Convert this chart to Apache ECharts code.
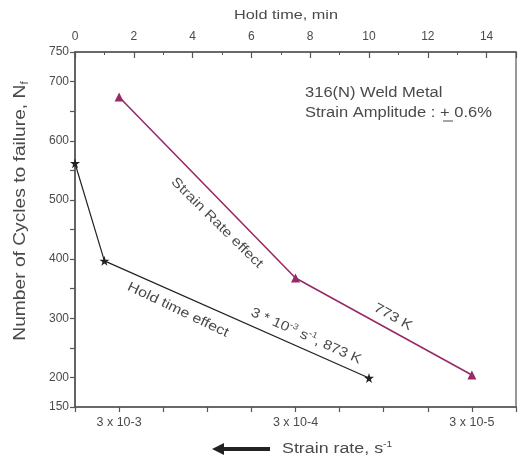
<!DOCTYPE html>
<html><head><meta charset="utf-8">
<script src="https://cdn.jsdelivr.net/npm/echarts@6/dist/echarts.min.js"></script>
<style>html,body{margin:0;padding:0;background:#fff}#c{width:520px;height:459px}</style>
</head><body><div id="c"></div>
<script>
// Hold-time series (873 K, 3e-3 s^-1)
const holdTime = [0, 1, 10];
const cyclesHold = [562, 397, 199];
// Strain-rate series (773 K)
const strainRates = [3e-3, 3e-4, 3e-5];
const cyclesRate = [674, 368, 204];
// Bottom tick labels
const rateTickLabels = {3: '3 x 10-3', 4: '3 x 10-4', 5: '3 x 10-5'};
const yLabelValues = [150, 200, 300, 400, 500, 600, 700, 750];

const txt = '#4a4a4a';
const axisCol = '#555';
const purple = '#992a68';
const font = 'Liberation Sans, Arial, sans-serif';
const star = 'path://M50,0 L61,35 L98,35 L68,57 L79,91 L50,70 L21,91 L32,57 L2,35 L39,35 Z';

const chart = echarts.init(document.getElementById('c'));
// deg: clockwise rotation in degrees; sx: horizontal stretch along baseline
function rtext(x, y, deg, text, size, sx) {
  return {
    type: 'text', x: x, y: y, rotation: -deg * Math.PI / 180, scaleX: sx || 1,
    style: { text: text, fill: txt, font: size + 'px ' + font, align: 'center', verticalAlign: 'middle' }
  };
}
chart.setOption({
  animation: false,
  grid: { left: 75, right: 4, top: 52, bottom: 52, show: true, borderColor: axisCol, borderWidth: 1.2, backgroundColor: 'transparent' },
  xAxis: [
    {
      type: 'value', position: 'bottom', min: 2.75, max: 5.25, interval: 0.25,
      axisLine: { show: true, lineStyle: { color: axisCol, width: 1.5 } },
      axisTick: { show: true, inside: false, length: 5, lineStyle: { color: axisCol, width: 1.2 } },
      splitLine: { show: false },
      axisLabel: {
        color: txt, fontSize: 12.5, fontFamily: font, margin: 9,
        formatter: function (v) { const k = Math.round(v * 100) / 100; return rateTickLabels[k] || ''; }
      }
    },
    {
      type: 'value', position: 'top', min: 0, max: 15, interval: 2,
      axisLine: { show: true, lineStyle: { color: axisCol, width: 1.5 } },
      axisTick: { show: true, inside: true, length: 6, lineStyle: { color: axisCol, width: 1.2 } },
      minorTick: { show: true, splitNumber: 2, length: 3, lineStyle: { color: axisCol, width: 1 } },
      splitLine: { show: false },
      axisLabel: { color: txt, fontSize: 12, fontFamily: font, margin: 9, showMaxLabel: false,
        formatter: function (v) { return v % 2 === 0 ? String(v) : ''; } }
    }
  ],
  yAxis: [{
    type: 'value', min: 150, max: 750, interval: 50,
    axisLine: { show: true, lineStyle: { color: axisCol, width: 1.5 } },
    axisTick: { show: true, inside: false, length: 5, lineStyle: { color: axisCol, width: 1.2 } },
    splitLine: { show: false },
    axisLabel: { color: txt, fontSize: 12, fontFamily: font, margin: 6,
      formatter: function (v) { return yLabelValues.indexOf(v) >= 0 ? String(v) : ''; } }
  }],
  series: [
    {
      type: 'line', xAxisIndex: 1, yAxisIndex: 0,
      data: holdTime.map((t, i) => [t, cyclesHold[i]]),
      lineStyle: { color: '#222', width: 1.2 },
      itemStyle: { color: '#222' },
      symbol: star, symbolSize: 10, showSymbol: true
    },
    {
      type: 'line', xAxisIndex: 0, yAxisIndex: 0,
      data: strainRates.map((r, i) => [-Math.log10(r / 3), cyclesRate[i]]),
      lineStyle: { color: purple, width: 1.6 },
      itemStyle: { color: purple },
      symbol: 'triangle', symbolSize: 9, showSymbol: true
    }
  ],
  graphic: [
    rtext(286, 16, 0, 'Hold time, min', 12.5, 1.3),
    { type: 'text', x: 21, y: 211, rotation: Math.PI / 2, scaleX: 1.2,
      style: { rich: { a: { fill: txt, font: '16px ' + font }, s: { fill: txt, font: '10px ' + font, padding: [8, 0, 0, 0] } },
        text: '{a|Number of Cycles to failure, N}{s|f}', align: 'center', verticalAlign: 'middle' } },
    { type: 'text', x: 305, y: 93, scaleX: 1.18, style: { text: '316(N) Weld Metal', fill: txt, font: '14px ' + font, verticalAlign: 'middle' } },
    { type: 'text', x: 305, y: 113, scaleX: 1.18, style: { text: 'Strain Amplitude : + 0.6%', fill: txt, font: '14px ' + font, verticalAlign: 'middle' } },
    { type: 'line', shape: { x1: 443, y1: 121, x2: 453, y2: 121 }, style: { stroke: txt, lineWidth: 1 } },
    rtext(217, 223, 44.5, 'Strain Rate effect', 13.5, 1.18),
    rtext(393, 317, 29, '773 K', 13.5, 1.18),
    rtext(178, 310, 25.5, 'Hold time effect', 13.5, 1.18),
    { type: 'text', x: 306, y: 336, rotation: -24 * Math.PI / 180, scaleX: 1.15,
      style: { rich: { a: { fill: txt, font: '13.5px ' + font }, u: { fill: txt, font: '8.5px ' + font, padding: [0, 0, 8, 0] } },
        text: '{a|3 * 10}{u|-3}{a| s}{u|-1}{a|, 873 K}', align: 'center', verticalAlign: 'middle' } },
    { type: 'polygon', shape: { points: [[212, 449], [224, 443], [224, 447], [270, 447], [270, 451], [224, 451], [224, 455]] }, style: { fill: '#222' } },
    { type: 'text', x: 282, y: 449, scaleX: 1.15, style: { rich: { a: { fill: txt, font: '15.5px ' + font }, u: { fill: txt, font: '9px ' + font, padding: [0, 0, 9, 0] } },
      text: '{a|Strain rate, s}{u|-1}', verticalAlign: 'middle' } }
  ]
});
</script></body></html>
